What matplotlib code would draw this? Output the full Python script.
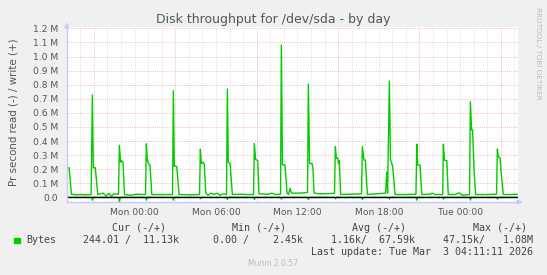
import matplotlib
matplotlib.use("Agg")
import matplotlib.pyplot as plt

# hours relative to Mon 00:00, values in M (bytes/s)
write_t = [-5.00, -4.97, -4.82, -4.65, -4.30, -4.00, -3.60, -3.20,
           -3.11, -3.04, -2.89, -2.71, -2.54, -2.32, -2.10, -1.88, -1.73, -1.51, -1.18,
           -1.12, -1.03, -0.96, -0.85, -0.74, -0.33, 0.18, 0.81,
           0.87, 0.94, 1.02, 1.14, 1.27, 1.88, 2.80,
           2.86, 2.93, 3.11, 3.28, 4.09, 4.79,
           4.85, 4.92, 5.05, 5.14, 5.25, 5.42, 5.64, 5.86, 6.08, 6.30, 6.52, 6.78,
           6.84, 6.91, 7.04, 7.21, 7.77, 8.36, 8.77,
           8.83, 8.92, 9.08, 9.17, 9.84, 10.13, 10.35, 10.76,
           10.82, 10.90, 11.09, 11.24, 11.35, 11.46, 11.57, 11.68, 12.20, 12.75,
           12.81, 12.90, 13.08, 13.15, 13.23, 13.67, 14.63, 14.74,
           14.80, 14.87, 14.97, 15.03, 15.09, 15.19, 15.88, 16.73,
           16.79, 16.91, 17.01, 17.16, 17.80, 18.50, 18.59, 18.65,
           18.78, 18.86, 19.03, 19.20, 19.94, 20.74,
           20.80, 20.87, 21.04, 21.17, 21.79, 21.93, 22.16, 22.71,
           22.76, 22.84, 23.01, 23.12, 23.62, 23.94, 24.14, 24.69,
           24.75, 24.84, 24.91, 25.02, 25.14, 25.83, 26.68,
           26.74, 26.81, 26.94, 27.01, 27.18, 27.67, 28.19]
write_v = [0.265, 0.21, 0.21, 0.022, 0.018, 0.02, 0.018, 0.02,
           0.727, 0.21, 0.21, 0.02, 0.025, 0.03, 0.01, 0.028, 0.008, 0.025, 0.022,
           0.37, 0.25, 0.26, 0.25, 0.02, 0.015, 0.022, 0.02,
           0.38, 0.27, 0.24, 0.23, 0.02, 0.02, 0.02,
           0.757, 0.22, 0.22, 0.02, 0.018, 0.02,
           0.343, 0.24, 0.25, 0.235, 0.03, 0.015, 0.03, 0.02, 0.03, 0.015, 0.025, 0.02,
           0.77, 0.25, 0.24, 0.02, 0.022, 0.02, 0.02,
           0.383, 0.27, 0.26, 0.025, 0.022, 0.03, 0.02, 0.022,
           1.082, 0.23, 0.23, 0.03, 0.02, 0.064, 0.03, 0.03, 0.03, 0.035,
           0.805, 0.24, 0.24, 0.206, 0.03, 0.025, 0.028, 0.03,
           0.36, 0.277, 0.28, 0.24, 0.26, 0.02, 0.022, 0.025,
           0.36, 0.265, 0.265, 0.02, 0.025, 0.03, 0.18, 0.03,
           0.826, 0.27, 0.217, 0.02, 0.02, 0.022,
           0.378, 0.23, 0.23, 0.02, 0.022, 0.03, 0.02, 0.02,
           0.378, 0.265, 0.26, 0.02, 0.02, 0.032, 0.015, 0.02,
           0.68, 0.478, 0.478, 0.194, 0.02, 0.02, 0.022,
           0.343, 0.29, 0.28, 0.18, 0.02, 0.02, 0.022]

# reads are drawn negative
read_t = [-5.00, -3.15, -3.11, -3.04, -1.16, -1.12, -1.05, 0.83, 0.87, 0.94,
          2.82, 2.86, 2.93, 4.81, 4.85, 4.92, 6.80, 6.84, 6.91, 8.79, 8.83, 8.90,
          10.78, 10.82, 10.89, 12.77, 12.81, 12.88, 14.76, 14.80, 14.87,
          16.75, 16.79, 16.86, 18.74, 18.78, 18.85, 20.76, 20.80, 20.87,
          22.72, 22.76, 22.83, 24.71, 24.75, 24.82, 26.70, 26.74, 26.81, 28.19]
read_v = [0, 0, -0.02, 0, 0, -0.035, 0, 0, -0.02, 0,
          0, -0.02, 0, 0, -0.01, 0, 0, -0.015, 0, 0, -0.015, 0,
          0, -0.012, 0, 0, -0.015, 0, 0, -0.01, 0,
          0, -0.015, 0, 0, -0.012, 0, 0, -0.02, 0,
          0, -0.012, 0, 0, -0.02, 0, 0, -0.012, 0, 0]

y_ticks = [0.0, 0.1, 0.2, 0.3, 0.4, 0.5, 0.6, 0.7, 0.8, 0.9, 1.0, 1.1, 1.2]
y_labels = ["0.0"] + ["%.1f M" % v for v in y_ticks[1:]]
x_ticks = [0, 6, 12, 18, 24]
x_labels = ["Mon 00:00", "Mon 06:00", "Mon 12:00", "Mon 18:00", "Tue 00:00"]

W, H = 547, 275
BG = "#F0F0F0"
GREEN = "#00CC00"
TXT = "#555555"


def fx(x):
    return x / W


def fy(y):
    return 1 - y / H


fig = plt.figure(figsize=(W / 100, H / 100), dpi=100, facecolor=BG)
left, right, top, bottom = 66.7, 518, 27, 202
ax = fig.add_axes([fx(left), fy(bottom), (right - left) / W, (bottom - top) / H])
ax.set_facecolor("white")
for s in ax.spines.values():
    s.set_visible(False)
ax.set_xlim(-5.0, 28.26)
ax.set_ylim(-0.033, 1.21)

# grid: grey every hour, red every 6h, red every 0.1M
dot = (0, (1, 1.5))
for h in range(-5, 29):
    major = (h + 3) % 6 == 0
    ax.axvline(h, color="#F2A8A8" if major else "#D8D8D8", lw=0.6, ls=dot, zorder=1)
for v in y_ticks:
    ax.axhline(v, color="#F2A8A8", lw=0.6, ls=dot, zorder=1)

ax.plot(read_t, read_v, color=GREEN, lw=1, zorder=3)
ax.plot(write_t, write_v, color=GREEN, lw=1, zorder=3)
ax.axhline(0, color="black", lw=1, zorder=4)

ax.set_yticks(y_ticks)
ax.set_yticklabels(y_labels)
ax.set_xticks(x_ticks)
ax.set_xticklabels(x_labels)
ax.tick_params(axis="both", length=0, labelsize=6.6, labelcolor=TXT, pad=6)
ax.tick_params(axis="x", pad=4)

# axis lines with arrows
axis_col = "#C8C8F4"
fig.add_artist(plt.Line2D([fx(left), fx(left)], [fy(bottom), fy(26)], color=axis_col, lw=1))
fig.add_artist(plt.Line2D([fx(left), fx(519)], [fy(bottom), fy(bottom)], color=axis_col, lw=1))
ax.annotate("", xy=(fx(left), fy(20)), xytext=(fx(left), fy(27)), xycoords="figure fraction",
            arrowprops=dict(arrowstyle="-|>", color=axis_col, lw=0.8, mutation_scale=7))
ax.annotate("", xy=(fx(525), fy(bottom)), xytext=(fx(518), fy(bottom)), xycoords="figure fraction",
            arrowprops=dict(arrowstyle="-|>", color=axis_col, lw=0.8, mutation_scale=7))

# texts
fig.text(fx(273), fy(19), "Disk throughput for /dev/sda - by day", ha="center", va="center",
         fontsize=9, color=TXT)
fig.text(fx(14), fy(112), "Pr second read (-) / write (+)", rotation=90, ha="center", va="center",
         fontsize=7.4, color=TXT)
fig.text(fx(538), fy(53), "RRDTOOL / TOBI OETIKER", rotation=270, ha="center", va="center",
         fontsize=5.2, color="#BBBBBB")

mono = dict(family="DejaVu Sans Mono", fontsize=7.2, color="#444444", va="center", ha="left")
for x, s in [(111.7, "Cur (-/+)"), (232.3, "Min (-/+)"), (351.7, "Avg (-/+)"), (472.7, "Max (-/+)")]:
    fig.text(fx(x), fy(228), s, **mono)
fig.patches.append(plt.Rectangle((fx(14), fy(243)), 5.5 / W, 5.5 / H, color=GREEN,
                                 transform=fig.transFigure, figure=fig))
for x, s in [(26.7, "Bytes"), (82.7, "244.01 /  11.13k"), (213.3, "0.00 /    2.45k"),
             (330.7, "1.16k/  67.59k"), (442.7, "47.15k/   1.08M")]:
    fig.text(fx(x), fy(240), s, **mono)
fig.text(fx(533), fy(252), "Last update: Tue Mar  3 04:11:11 2026",
         **{**mono, "ha": "right"})
fig.text(fx(273), fy(264), "Munin 2.0.57", ha="center", va="center", fontsize=5.5, color="#BBBBBB")

fig.savefig("out.png", dpi=100, facecolor=BG)
